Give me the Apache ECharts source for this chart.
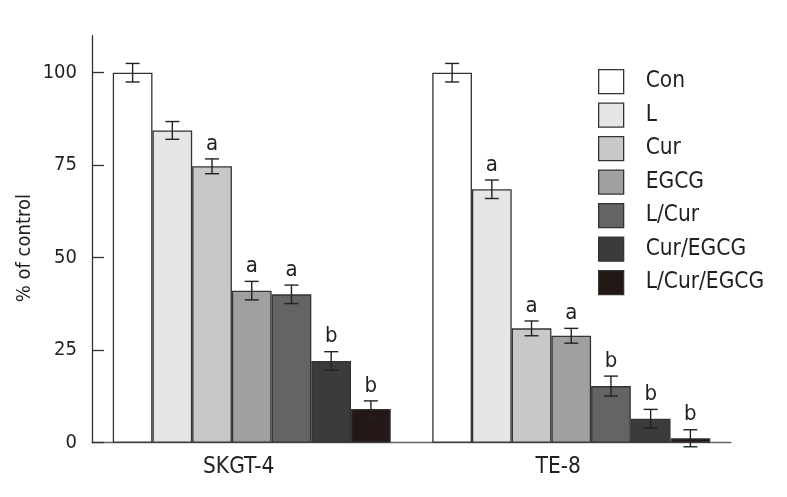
<!DOCTYPE html>
<html>
<head>
<meta charset="utf-8">
<script src="https://cdn.jsdelivr.net/npm/echarts@6/dist/echarts.min.js"></script>
<style>
html,body{margin:0;padding:0;background:#fff;}
#chart{width:787px;height:497px;}
</style>
</head>
<body>
<div id="chart"></div>
<script>
const categories = ['SKGT-4', 'TE-8'];
const groups = ['Con', 'L', 'Cur', 'EGCG', 'L/Cur', 'Cur/EGCG', 'L/Cur/EGCG'];
const skgtValues = [100, 84.4, 74.7, 41.1, 40.1, 22.1, 9.1];
const te8Values = [100, 68.5, 30.9, 28.9, 15.3, 6.5, 1.2];
const skgtErrors = [2.5, 2.4, 2.0, 2.5, 2.5, 2.5, 2.2];
const te8Errors = [2.5, 2.5, 2.0, 2.0, 2.7, 2.5, 2.3];
const skgtMarks = ['', '', 'a', 'a', 'a', 'b', 'b'];
const te8Marks = ['', 'a', 'a', 'a', 'b', 'b', 'b'];
const yTicks = [0, 25, 50, 75, 100];
const colors = ['#ffffff', '#e6e6e6', '#c8c8c8', '#a0a0a0', '#646464', '#3d3a3a', '#231816'];

const FONT = 'DejaVu Sans Condensed';
const TXT = '#231f20';
const GAP = 0.13;
const N = groups.length;

const series = [];
groups.forEach((g, i) => {
  series.push({
    name: g,
    type: 'bar',
    data: [skgtValues[i], te8Values[i]],
    barGap: '0%',
    barCategoryGap: (GAP * 100) + '%',
    itemStyle: { color: colors[i], borderColor: '#333', borderWidth: 1.3 },
    emphasis: { disabled: true },
    z: 2
  });
});

groups.forEach((g, i) => {
  const data = [
    [0, skgtValues[i], skgtErrors[i], skgtMarks[i]],
    [1, te8Values[i], te8Errors[i], te8Marks[i]]
  ];
  series.push({
    type: 'custom',
    name: g + '_err',
    data: data,
    encode: { x: 0, y: 1 },
    z: 5,
    silent: true,
    renderItem: function (params, api) {
      const cat = api.value(0);
      const v = api.value(1);
      const e = api.value(2);
      const mark = data[params.dataIndex][3];
      const band = api.size([1, 0])[0];
      const bw = band * (1 - GAP) / N;
      const c = api.coord([cat, v]);
      const x = c[0] + (i - (N - 1) / 2) * bw;
      const yTop = api.coord([cat, v + e])[1];
      const yBot = api.coord([cat, v - e])[1];
      const cap = 7;
      const st = { stroke: '#222', lineWidth: 1.4 };
      const children = [
        { type: 'line', shape: { x1: x, y1: yTop, x2: x, y2: yBot }, style: st },
        { type: 'line', shape: { x1: x - cap, y1: yTop, x2: x + cap, y2: yTop }, style: st },
        { type: 'line', shape: { x1: x - cap, y1: yBot, x2: x + cap, y2: yBot }, style: st }
      ];
      if (mark) {
        children.push({
          type: 'text',
          style: {
            text: mark, x: x, y: yTop - 4,
            align: 'center', verticalAlign: 'bottom',
            fill: TXT, font: '22px "' + FONT + '"'
          }
        });
      }
      return { type: 'group', children: children };
    }
  });
});

const chart = echarts.init(document.getElementById('chart'));
chart.setOption({
  animation: false,
  backgroundColor: '#fff',
  grid: { left: 92, right: 56, top: 35.7, bottom: 54.3 },
  legend: {
    data: groups,
    orient: 'vertical',
    left: 598,
    top: 69,
    padding: 0,
    itemWidth: 25,
    itemHeight: 24,
    itemGap: 8.2,
    icon: 'rect',
    selectedMode: false,
    itemStyle: { borderColor: '#333', borderWidth: 1.3 },
    textStyle: { fontFamily: FONT, fontSize: 22.5, color: TXT, padding: [0, 0, 0, 17] }
  },
  xAxis: {
    type: 'category',
    data: categories,
    axisLine: { lineStyle: { color: '#666', width: 1.3 } },
    axisTick: { show: false },
    axisLabel: {
      fontFamily: FONT, fontSize: 22.5, color: TXT, margin: 13,
      padding: [0, 26, 0, 0]
    }
  },
  yAxis: {
    type: 'value',
    min: 0,
    max: 110,
    interval: 25,
    name: '% of control',
    nameLocation: 'middle',
    nameGap: 57,
    nameMoveOverlap: false,
    nameTextStyle: { fontFamily: FONT, fontSize: 20, color: TXT, padding: [0, 18, 0, 0] },
    splitLine: { show: false },
    axisLine: { show: true, lineStyle: { color: '#333', width: 1.3 } },
    axisTick: { show: true, inside: true, length: 12, lineStyle: { color: '#333', width: 1.3 }, customValues: yTicks },
    axisLabel: { fontFamily: FONT, fontSize: 20, color: TXT, margin: 15, customValues: yTicks }
  },
  series: series
});
</script>
</body>
</html>
